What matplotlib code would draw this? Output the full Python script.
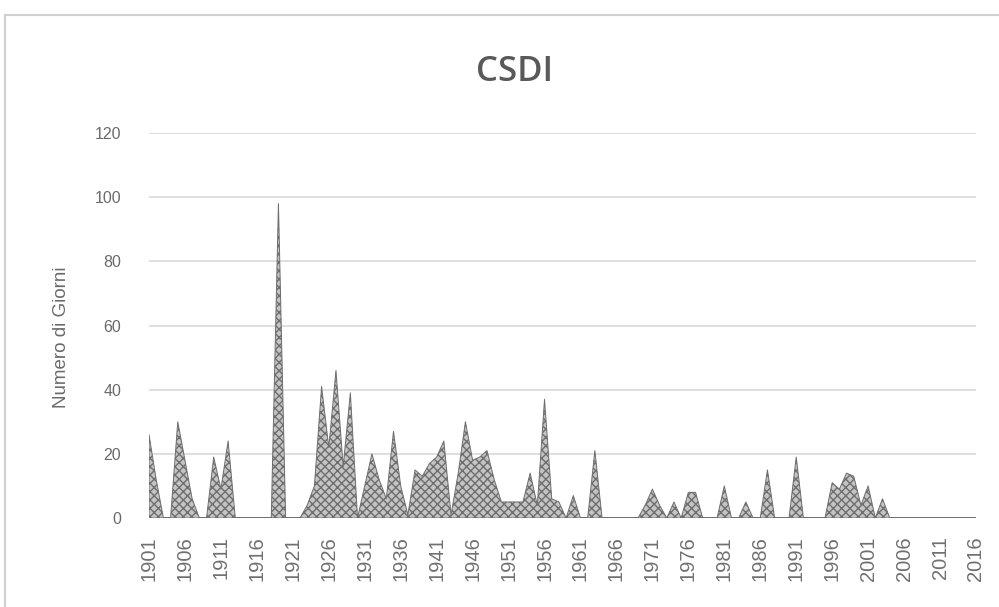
import matplotlib
matplotlib.use("Agg")
import matplotlib.pyplot as plt
from matplotlib.lines import Line2D
import numpy as np

years = list(range(1901, 2017))
csdi = [
    26, 12, 0, 0, 30, 18, 6, 0, 0, 19,      # 1901-1910
    9, 24, 0, 0, 0, 0, 0, 0, 98, 0,         # 1911-1920
    0, 0, 4, 10, 41, 22, 46, 16, 39, 0,     # 1921-1930
    10, 20, 12, 6, 27, 10, 1, 15, 13, 17,   # 1931-1940
    19, 24, 1, 14, 30, 18, 19, 21, 12, 5,   # 1941-1950
    5, 5, 5, 14, 4, 37, 6, 5, 0, 7,         # 1951-1960
    0, 0, 21, 0, 0, 0, 0, 0, 0, 4,          # 1961-1970
    9, 4, 0, 5, 0, 8, 8, 0, 0, 0,           # 1971-1980
    10, 0, 0, 5, 0, 0, 15, 0, 0, 0,         # 1981-1990
    19, 0, 0, 0, 0, 11, 9, 14, 13, 4,       # 1991-2000
    10, 0, 6, 0, 0, 0, 0, 0, 0, 0,          # 2001-2010
    0, 0, 0, 0, 0, 0,                       # 2011-2016
]
tick_years = list(range(1901, 2017, 5))
yticks = [0, 20, 40, 60, 80, 100, 120]
title = "CSDI"
ylabel = "Numero di Giorni"

W, H = 999, 607
fig = plt.figure(figsize=(W / 100, H / 100), dpi=100)
fig.patch.set_facecolor("white")

# outer chart frame (top and left edges visible)
fig.add_artist(Line2D([5 / W, 1.0], [1 - 15 / H, 1 - 15 / H], color="#d0d0d0", lw=1.5))
fig.add_artist(Line2D([5 / W, 5 / W], [0, 1 - 15 / H], color="#d0d0d0", lw=1.5))

ax = fig.add_axes([149 / W, 89 / H, (976 - 149) / W, (518 - 133) / H])
ax.fill_between(years, csdi, 0, facecolor="#c4c4c4", edgecolor="#6e6e6e",
                hatch="xxxx", linewidth=0.7, zorder=3)

ax.set_xlim(1901, 2016)
ax.set_ylim(0, 120)
ax.set_yticks(yticks)
ax.set_xticks(tick_years)
ax.set_xticklabels([str(y) for y in tick_years], rotation=90, fontsize=14.5,
                   color="#707070", family="Liberation Sans")
ax.set_yticklabels([str(v) for v in yticks], fontsize=11.5, color="#6a6a6a",
                   family="Liberation Sans")
ax.tick_params(axis="y", length=0, pad=20)
ax.tick_params(axis="x", length=0, pad=13)
ax.grid(axis="y", color="#d9d9d9", linewidth=1.2, zorder=0)
ax.set_axisbelow(True)
for s in ax.spines.values():
    s.set_visible(False)

ax.set_ylabel(ylabel, fontsize=13.5, color="#6a6a6a", family="Liberation Sans",
              labelpad=0)
ax.yaxis.set_label_coords(-(149 - 70) / (976 - 149), (518 - 337) / (518 - 133))

fig.text(515 / W, 1 - 72 / H, title, ha="center", va="center", fontsize=25,
         color="#595959", family="Open Sans", fontweight="semibold")

fig.savefig("out.png", dpi=100, facecolor="white")
